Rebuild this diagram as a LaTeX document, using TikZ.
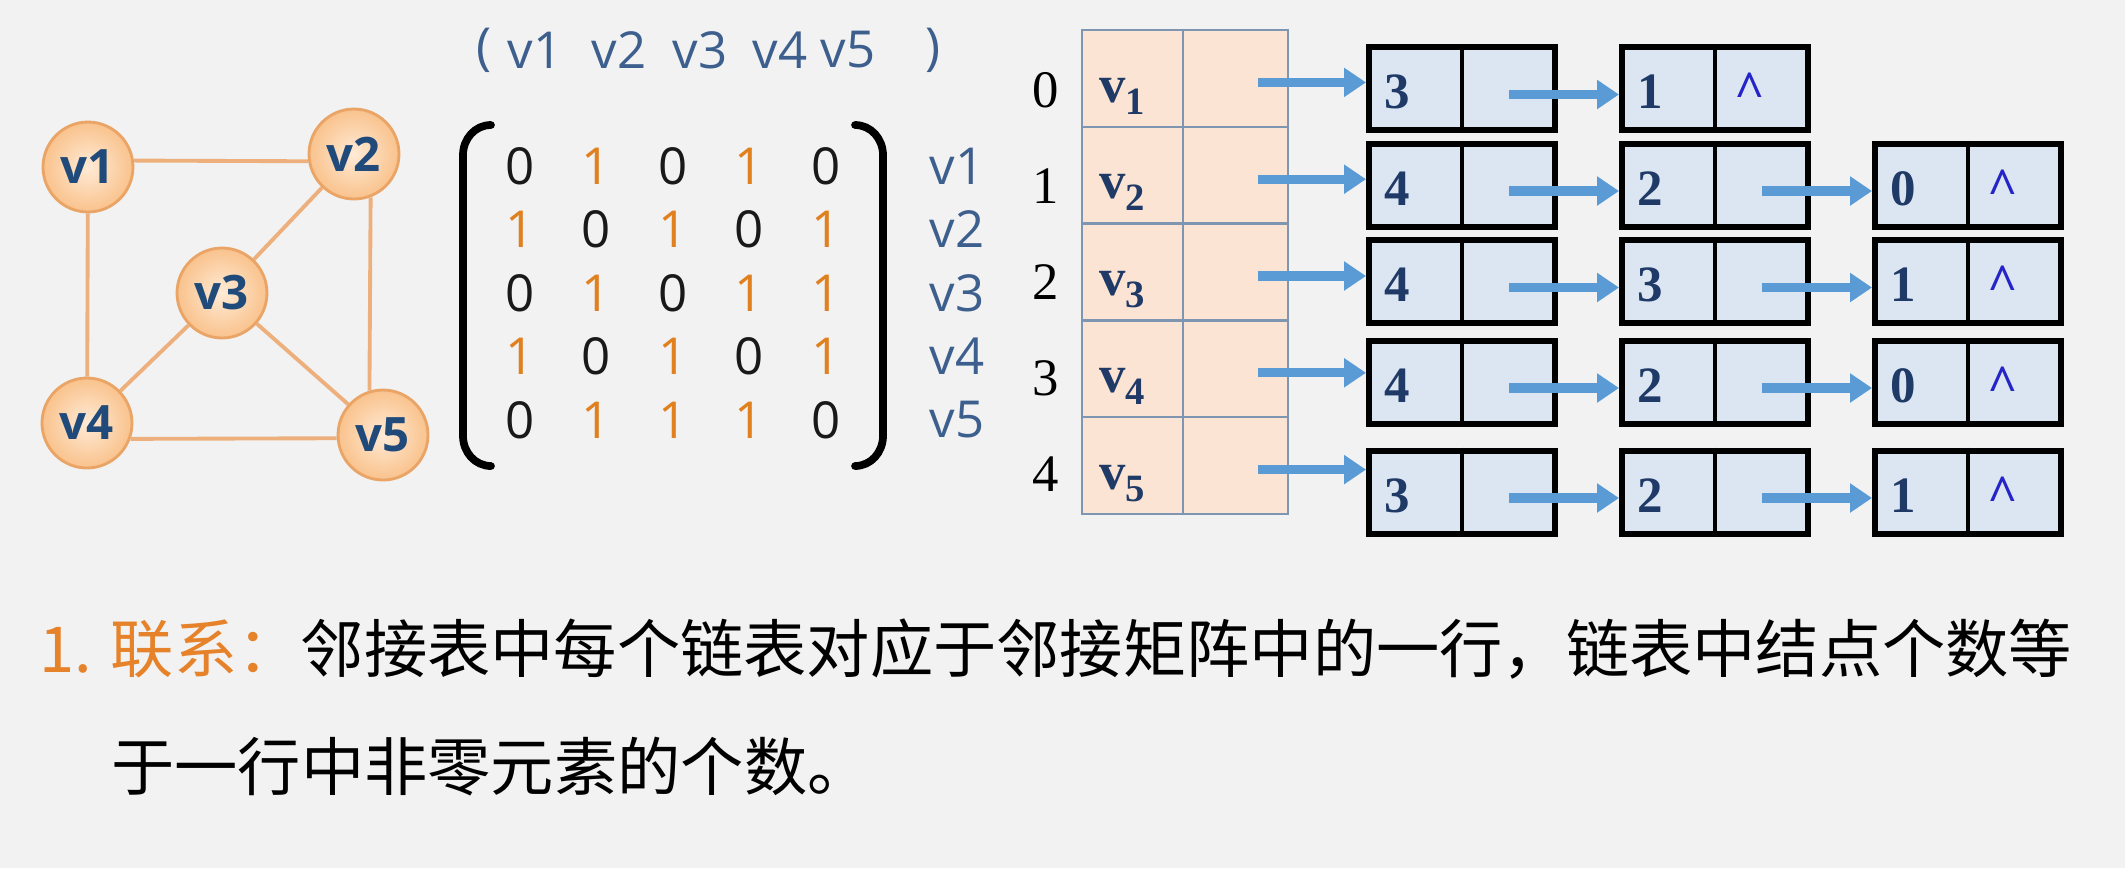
\documentclass[tikz,border=0pt]{standalone}
\usepackage{fontspec}
\setmainfont{Liberation Serif}
\newfontfamily\osans{Open Sans}
\newfontfamily\cjk{Noto Sans CJK SC}
\usetikzlibrary{arrows.meta}

\definecolor{bggray}{HTML}{F2F2F2}
\definecolor{vin}{HTML}{FFEBD6}
\definecolor{vout}{HTML}{F9C28C}
\definecolor{vline}{HTML}{E9A466}
\definecolor{vtext}{HTML}{1F4A7A}
\definecolor{eorange}{HTML}{EDB07C}
\definecolor{oneorange}{HTML}{E0801F}
\definecolor{labblue}{HTML}{3D5F8E}
\definecolor{headfill}{HTML}{FCE4D4}
\definecolor{headline}{HTML}{7F96B3}
\definecolor{boxfill}{HTML}{DCE6F2}
\definecolor{arrblue}{HTML}{5B9BD5}
\definecolor{numblue}{HTML}{1F3A66}
\definecolor{caret}{HTML}{2424C8}
\definecolor{torange}{HTML}{E5822A}

\newcommand{\vsub}[1]{v\raisebox{-0.5ex}{\fontsize{11}{11}\selectfont #1}}

\begin{document}
\begin{tikzpicture}[
  vtx/.style={circle, draw=vline, line width=0.8pt, inner color=vin, outer color=vout,
    minimum size=0.9cm, inner sep=0pt, text=vtext, font=\osans\bfseries\fontsize{13.5}{13.5}\selectfont},
  gedge/.style={draw=eorange, line width=1.1pt},
  mlab/.style={text=labblue, font=\osans\fontsize{14.5}{14.5}\selectfont},
  m0/.style={text=black!90, font=\osans\fontsize{14.5}{14.5}\selectfont},
  m1/.style={text=oneorange, font=\osans\fontsize{14.5}{14.5}\selectfont},
  brk/.style={line width=2.2pt, line cap=round},
  hcell/.style={rectangle, draw=headline, fill=headfill, line width=0.7pt, minimum height=0.968cm, inner sep=0pt},
  idx/.style={anchor=base, font=\fontsize{15}{15}\selectfont},
  hlab/.style={anchor=base, text=numblue, font=\bfseries\fontsize{15}{15}\selectfont},
  lbox/.style={rectangle, draw=black, fill=boxfill, line width=1.7pt, minimum width=1.86cm, minimum height=0.83cm, inner sep=0pt},
  bnum/.style={anchor=base, text=numblue, font=\bfseries\fontsize{14.5}{14.5}\selectfont},
  nil/.style={anchor=base, text=caret, font=\bfseries\fontsize{15}{15}\selectfont},
  ptr/.style={draw=arrblue, line width=2.6pt, -{Triangle[length=0.22cm, width=0.28cm]}},
  txt/.style={anchor=base west, font=\cjk\fontsize{18}{18}\selectfont}
]
\useasboundingbox (0,0) rectangle (21.25,-8.68);
\fill[bggray] (0,0) rectangle (21.25,-8.68);

% the graph
\node[vtx] (v1) at (0.88,-1.67) {v1};
\node[vtx] (v2) at (3.54,-1.54) {v2};
\node[vtx] (v3) at (2.22,-2.93) {v3};
\node[vtx] (v4) at (0.87,-4.23) {v4};
\node[vtx] (v5) at (3.83,-4.35) {v5};
\draw[gedge] (v1.8)--(v2.189) (v1)--(v4) (v2)--(v3) (v2.-69)--(v5.107);
\draw[gedge] (v3)--(v4) (v3)--(v5) (v4.-20)--(v5.184);

% adjacency matrix
\node[mlab] (lp) at (4.84,-0.50) {(};
\foreach \x [count=\i] in {5.35,6.19,7.00,7.80,8.48}
  \node[mlab] (c\i) at (\x,-0.50) {v\i};
\node[mlab] (rp) at (9.33,-0.50) {)};

\foreach \row [count=\r] in {{0,1,0,1,0},{1,0,1,0,1},{0,1,0,1,1},{1,0,1,0,1},{0,1,1,1,0}} {
  \foreach \e [count=\c] in \row
    \node[m\e] (a\r\c) at ({5.20+0.765*(\c-1)}, {-1.66-0.635*(\r-1)}) {\e};
  \node[mlab] (r\r) at (9.57, {-1.66-0.635*(\r-1)}) {v\r};
}
\draw[brk] (4.91,-1.25) to[out=180,in=90] (4.63,-1.55) -- (4.63,-4.36) to[out=-90,in=180] (4.91,-4.66);
\draw[brk] (8.55,-1.25) to[out=0,in=90] (8.83,-1.55) -- (8.83,-4.36) to[out=-90,in=0] (8.55,-4.66);

% adjacency list: head table
\foreach \i/\n in {0/1,1/2,2/3,3/4,4/5} {
  \node[hcell, minimum width=1.01cm] (h\i) at (11.325, {-0.784-0.968*\i}) {};
  \node[hcell, minimum width=1.05cm] (p\i) at (12.355, {-0.784-0.968*\i}) {};
  \node[idx] (i\i) at (10.46, {-1.07-0.96*\i}) {\i};
  \node[hlab] (l\i) at (11.22, {-1.02-0.968*\i}) {\vsub{\n}};
  \coordinate (s\i) at ([shift={(0.22,-0.04)}]p\i.center);
}

% adjacency list: edge nodes
\node[lbox] (b01) at (14.62,-0.885) {};
\node[lbox] (b02) at (17.15,-0.885) {};
\draw[line width=0.9pt] (b01.north) -- (b01.south);
\draw[line width=0.9pt] (b02.north) -- (b02.south);
\node[bnum] (n01) at ([shift={(-0.65,-0.20)}]b01.center) {3};
\node[bnum] (n02) at ([shift={(-0.65,-0.20)}]b02.center) {1};
\node[nil] (z0) at ([shift={(0.35,-0.19)}]b02.center) {\textasciicircum};
\coordinate (q01) at ([shift={(0.47,-0.06)}]b01.center);
\draw[ptr] (s0) -- (s0 -| b01.west);
\draw[ptr] (q01) -- (q01 -| b02.west);

\foreach \r/\y/\ka/\kb/\kc in {1/1.85/4/2/0, 2/2.815/4/3/1, 3/3.82/4/2/0, 4/4.92/3/2/1} {
  \foreach \c/\x/\k in {1/14.62/\ka, 2/17.15/\kb, 3/19.68/\kc} {
    \node[lbox] (b\r\c) at (\x,-\y) {};
    \draw[line width=0.9pt] (b\r\c.north) -- (b\r\c.south);
    \node[bnum] (n\r\c) at ([shift={(-0.65,-0.20)}]b\r\c.center) {\k};
  }
  \node[nil] (z\r) at ([shift={(0.35,-0.19)}]b\r3.center) {\textasciicircum};
  \coordinate (q\r1) at ([shift={(0.47,-0.06)}]b\r1.center);
  \coordinate (q\r2) at ([shift={(0.47,-0.06)}]b\r2.center);
  \draw[ptr] (s\r) -- (s\r -| b\r1.west);
  \draw[ptr] (q\r1) -- (q\r1 -| b\r2.west);
  \draw[ptr] (q\r2) -- (q\r2 -| b\r3.west);
}

% remark
\node[txt] (t1) at (0.27,-6.72) {{\color{torange}1. 联系：}邻接表中每个链表对应于邻接矩阵中的一行，链表中结点个数等};
\node[txt] (t2) at (0.99,-7.90) {于一行中非零元素的个数。};
\end{tikzpicture}
\end{document}
